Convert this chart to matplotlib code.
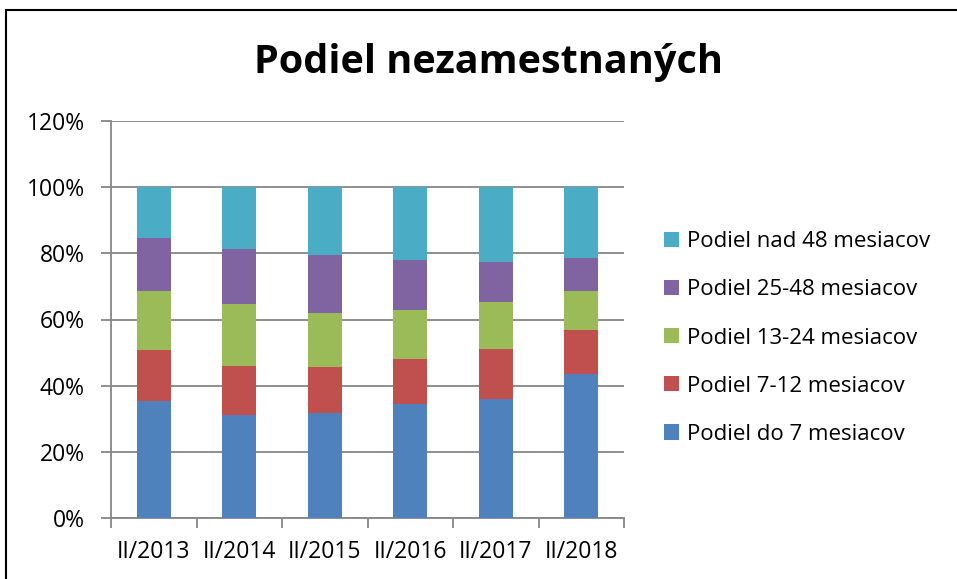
import matplotlib
matplotlib.use("Agg")
import matplotlib.pyplot as plt
from matplotlib.patches import Rectangle
import numpy as np

categories = ["II/2013", "II/2014", "II/2015", "II/2016", "II/2017", "II/2018"]
series_names = ["Podiel do 7 mesiacov", "Podiel 7-12 mesiacov", "Podiel 13-24 mesiacov",
                "Podiel 25-48 mesiacov", "Podiel nad 48 mesiacov"]
do7 = [35.4, 31.2, 31.6, 34.6, 36.0, 43.4]
m7_12 = [15.5, 14.8, 14.1, 13.6, 15.2, 13.5]
m13_24 = [17.7, 18.7, 16.2, 14.8, 14.0, 11.6]
m25_48 = [15.9, 16.6, 17.5, 14.9, 12.1, 10.2]
nad48 = [15.5, 18.7, 20.6, 22.1, 22.7, 21.3]
colors = ["#4F81BD", "#C0504D", "#9BBB59", "#8064A2", "#4BACC6"]
yticks = [0, 20, 40, 60, 80, 100, 120]

plt.rcParams['font.family'] = ['Open Sans', 'DejaVu Sans']

fig = plt.figure(figsize=(9.57, 5.79), dpi=100)
W, H = 957, 579
ax = fig.add_axes([111 / W, 1 - 518 / H, (624 - 111) / W, (518 - 121) / H])

x = np.arange(len(categories))
bottom = np.zeros(len(categories))
handles = []
for vals, name, c in zip([do7, m7_12, m13_24, m25_48, nad48], series_names, colors):
    b = ax.bar(x, vals, width=0.4, bottom=bottom, color=c, label=name, zorder=3)
    handles.append(b)
    bottom += np.array(vals)

ax.set_xlim(-0.5, len(categories) - 0.5)
ax.set_ylim(0, 120)
ax.set_yticks(yticks)
ax.set_yticklabels([f"{v}%" for v in yticks], fontsize=16.5)
ax.yaxis.grid(True, color="#868686", linewidth=1.3, zorder=0)
ax.set_xticks(x)
ax.set_xticklabels(categories, fontsize=16.5)
ax.set_xticks(np.arange(-0.5, len(categories)), minor=True)
ax.tick_params(axis="x", which="major", length=0, pad=16)
ax.tick_params(axis="x", which="minor", length=7, width=1.3, color="#868686", direction="out")
ax.tick_params(axis="y", length=7, width=1.3, color="#868686", direction="out", pad=12)
for s in ["top", "right"]:
    ax.spines[s].set_visible(False)
for s in ["left", "bottom"]:
    ax.spines[s].set_color("#868686")
    ax.spines[s].set_linewidth(1.3)

leg = fig.legend(handles[::-1], series_names[::-1], loc="center left",
                 bbox_to_anchor=(664 / W, 1 - 338 / H), frameon=False, fontsize=16,
                 borderpad=0, borderaxespad=0,
                 handlelength=0.68, handleheight=0.68, handletextpad=0.35, labelspacing=1.22)

fig.text((255 + 722) / 2 / W, 1 - 62 / H, "Podiel nezamestnaných", ha="center", va="center",
         fontsize=28.5, fontweight="bold")

fig.patches.append(Rectangle((6 / W, -0.05), 1.2, 1 - 10 / H + 0.05, transform=fig.transFigure,
                             fill=False, edgecolor="black", linewidth=1.5))

fig.savefig("out.png", dpi=100)
